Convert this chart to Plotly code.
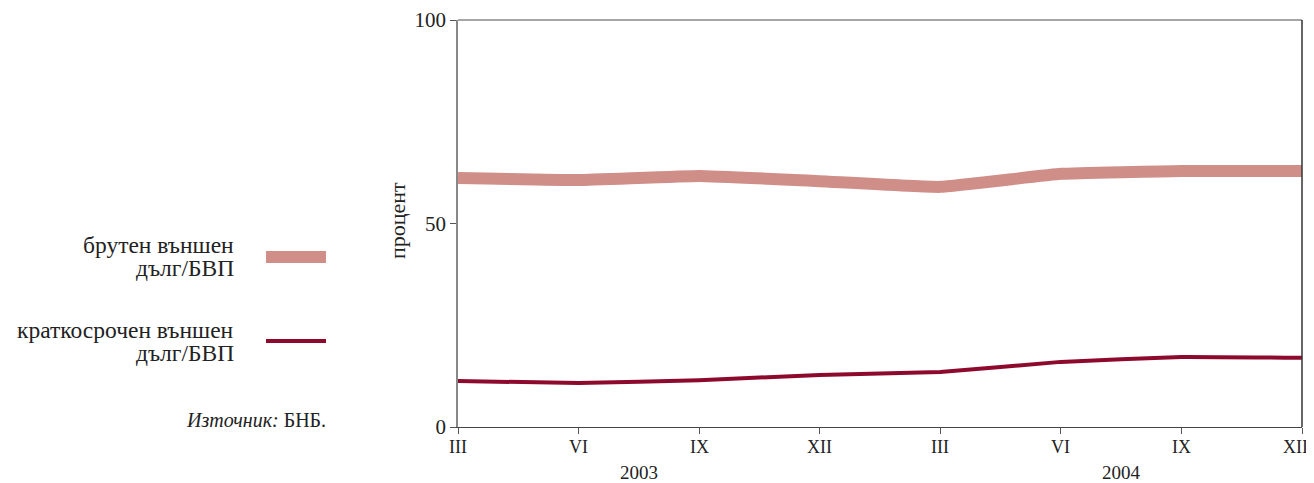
import plotly.graph_objects as go

quarters = ["III", "VI", "IX", "XII", "III", "VI", "IX", "XII"]
years = ["2003", "2004"]
gross_debt = [61.2, 60.7, 61.7, 60.4, 59.0, 62.2, 62.9, 62.9]
short_debt = [11.3, 10.8, 11.5, 12.8, 13.5, 16.0, 17.2, 17.0]
name_gross = ["брутен външен", "дълг/БВП"]
name_short = ["краткосрочен външен", "дълг/БВП"]

FONT = "Liberation Serif, Times New Roman, serif"
C_GROSS = "#D08E89"
C_SHORT = "#8E0A2C"

x = list(range(len(quarters)))

# page body has an 8px margin: shrink figure so plot area lands where the reference has it
W, H = 1306, 475

def px(p):   # page pixel x -> paper x
    return (p - 458) / 844.0

def py(p):   # page pixel y -> paper y
    return (427 - p) / 407.0

fig = go.Figure()
fig.add_trace(go.Scatter(x=x, y=gross_debt, mode="lines",
                         line=dict(color=C_GROSS, width=12, shape="spline", smoothing=0.3),
                         showlegend=False))
fig.add_trace(go.Scatter(x=x, y=short_debt, mode="lines",
                         line=dict(color=C_SHORT, width=4, shape="spline", smoothing=0.3),
                         showlegend=False))

fig.update_layout(
    width=W, height=H,
    margin=dict(l=450, r=12, t=12, b=56, autoexpand=False),
    paper_bgcolor="white", plot_bgcolor="white",
    font=dict(family=FONT, color="#222", size=19),
    xaxis=dict(range=[0, 7], tickvals=x, showticklabels=False, showgrid=False,
               zeroline=False, showline=True, linecolor="#444", linewidth=1,
               ticks="outside", ticklen=6, tickcolor="#555", automargin=False),
    yaxis=dict(range=[0, 100], tickvals=[0, 50, 100], showgrid=False,
               zeroline=False, showline=True, linecolor="#888", linewidth=1.5,
               ticks="outside", ticklen=6, tickcolor="#555", automargin=False,
               tickfont=dict(family=FONT, size=21)),
)

# x tick labels (last one right-aligned so it stays inside the page, as in the reference)
for xi, q in zip(x, quarters):
    last = xi == x[-1]
    fig.add_annotation(x=xi, y=py(447), xref="x", yref="paper",
                       xanchor="right" if last else "center", xshift=8 if last else 0,
                       yanchor="middle", text=q, showarrow=False,
                       font=dict(family=FONT, size=18))

# top (gray) and right (dark) border
fig.add_shape(type="line", xref="paper", yref="paper", x0=0, x1=1, y0=1, y1=1,
              line=dict(color="#888", width=1.5))
fig.add_shape(type="line", xref="paper", yref="paper", x0=1, x1=1, y0=0, y1=1,
              line=dict(color="#333", width=1.5))

# y-axis title
fig.add_annotation(x=px(397), y=py(221), xref="paper", yref="paper", text="процент",
                   xanchor="center", yanchor="middle",
                   textangle=-90, showarrow=False, font=dict(family=FONT, size=22))

# year labels
for xi, yr in zip([1.5, 5.5], years):
    fig.add_annotation(x=xi, y=py(472), xref="x", yref="paper", yanchor="middle",
                       text=yr, showarrow=False, font=dict(family=FONT, size=19))

# legend-like elements
fig.add_shape(type="line", xref="paper", yref="paper", x0=px(266), x1=px(326),
              y0=py(257), y1=py(257), line=dict(color=C_GROSS, width=12))
fig.add_shape(type="line", xref="paper", yref="paper", x0=px(266), x1=px(326),
              y0=py(341), y1=py(341), line=dict(color=C_SHORT, width=4))
for lines, ys in [(name_gross, [245, 268]), (name_short, [330, 353])]:
    for t, yy in zip(lines, ys):
        fig.add_annotation(x=px(236), y=py(yy), xref="paper", yref="paper", xanchor="right",
                           yanchor="middle", align="right", text=t, showarrow=False,
                           font=dict(family=FONT, size=23.5))
fig.add_annotation(x=px(328), y=py(420), xref="paper", yref="paper", xanchor="right",
                   yanchor="middle", align="right", text="<i>Източник:</i> БНБ.",
                   showarrow=False, font=dict(family=FONT, size=20))

fig.write_html("out.html")
